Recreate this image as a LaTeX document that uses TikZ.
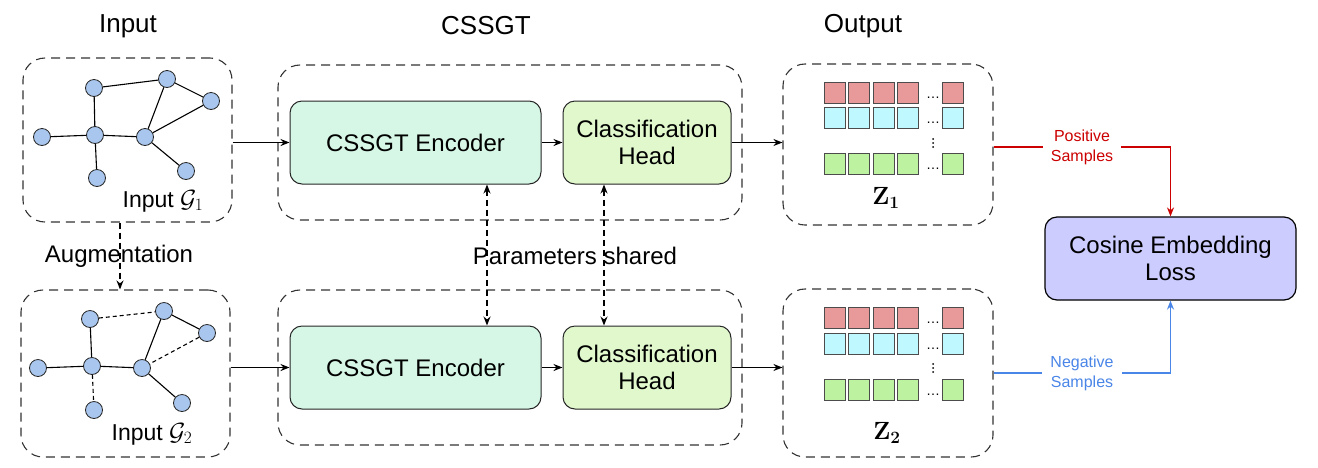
\documentclass[tikz,border=0pt]{standalone}
\usepackage[no-math]{fontspec}
\setmainfont{Liberation Sans}
\usetikzlibrary{arrows.meta,calc}
\definecolor{gblue}{HTML}{A9C6EE}
\definecolor{encfill}{HTML}{D6F7E6}
\definecolor{headfill}{HTML}{E0F8CC}
\definecolor{lossfill}{HTML}{CCCCFF}
\definecolor{cred}{HTML}{E89A9A}
\definecolor{ccyan}{HTML}{BFF9FF}
\definecolor{cgreen}{HTML}{BCF2A0}
\definecolor{posred}{HTML}{CC0000}
\definecolor{negblue}{HTML}{4A86E8}
\begin{document}
\begin{tikzpicture}[x=1pt,y=-1pt,
  container/.style={draw=black!80, line width=1.1pt, dash pattern=on 9pt off 6pt, rounded corners=22pt, inner sep=0pt},
  gnode/.style={circle, draw=black!85, fill=gblue, line width=0.8pt, minimum size=17pt, inner sep=0pt},
  gedge/.style={line width=1.1pt, black},
  gdash/.style={gedge, dash pattern=on 4pt off 3pt},
  arr/.style={-{Stealth[length=9pt,width=7pt]}, line width=1.5pt},
  dasharr/.style={{Stealth[length=9pt,width=7pt]}-{Stealth[length=9pt,width=7pt]}, line width=1.5pt, dash pattern=on 6pt off 4pt},
  procbox/.style={draw=black!85, line width=1pt, rounded corners=12pt, minimum height=83pt, inner sep=0pt, align=center, font=\fontsize{24}{27}\selectfont},
  cell/.style={draw=black!70, line width=0.8pt, minimum size=21pt, inner sep=0pt},
  title/.style={font=\fontsize{26}{30}\selectfont},
  lbl/.style={font=\fontsize{24}{28}\selectfont},
  dots/.style={inner sep=0pt, font=\fontsize{14}{16}\selectfont},
  vdot/.style={circle, fill=black, inner sep=0pt, minimum size=2pt},
  zlbl/.style={font=\fontsize{26}{30}\selectfont},
  sample/.style={fill=white, align=center, inner xsep=8pt, inner ysep=1pt, font=\fontsize{16}{20}\selectfont}
]
\useasboundingbox[fill=white] (0,0) rectangle (1318,467);

% titles
\node[title] (tin) at (128,26) {Input};
\node[title] (tcs) at (486,26) {CSSGT};
\node[title] (tout) at (863,26) {Output};

% containers
\node[container, minimum width=209pt, minimum height=164pt] (in1) at (127.5,140) {};
\node[container, minimum width=209pt, minimum height=167pt] (in2) at (125.5,373.5) {};
\node[container, minimum width=464pt, minimum height=155pt] (cs1) at (510,142.5) {};
\node[container, minimum width=464pt, minimum height=155pt] (cs2) at (510,367.5) {};
\node[container, minimum width=210pt, minimum height=161pt] (out1) at (888,144.5) {};
\node[container, minimum width=210pt, minimum height=168pt] (out2) at (888,373) {};

% graph 1
\node[gnode] (a1) at (94,88) {};
\node[gnode] (b1) at (167,79) {};
\node[gnode] (c1) at (211,101) {};
\node[gnode] (d1) at (42,137) {};
\node[gnode] (e1) at (95,135) {};
\node[gnode] (f1) at (145,137) {};
\node[gnode] (g1) at (97,178) {};
\node[gnode] (h1) at (186,171) {};
\draw[gedge] (a1) -- (b1);
\draw[gedge] (a1) -- (e1);
\draw[gedge] (d1) -- (e1);
\draw[gedge] (e1) -- (f1);
\draw[gedge] (e1) -- (g1);
\draw[gedge] (b1) -- (f1);
\draw[gedge] (b1) -- (c1);
\draw[gedge] (c1) -- (f1);
\draw[gedge] (f1) -- (h1);
\node[font=\fontsize{23}{27}\selectfont] (lg1) at (163,201) {Input $\mathcal{G}_1$};

% graph 2
\node[gnode] (a2) at (90,319) {};
\node[gnode] (b2) at (164,311) {};
\node[gnode] (c2) at (207,333) {};
\node[gnode] (d2) at (38,368) {};
\node[gnode] (e2) at (92,366) {};
\node[gnode] (f2) at (142,368) {};
\node[gnode] (g2) at (94,410) {};
\node[gnode] (h2) at (182,403) {};
\draw[gdash] (a2) -- (b2);
\draw[gedge] (a2) -- (e2);
\draw[gedge] (d2) -- (e2);
\draw[gedge] (e2) -- (f2);
\draw[gdash] (e2) -- (g2);
\draw[gedge] (b2) -- (f2);
\draw[gedge] (b2) -- (c2);
\draw[gdash] (c2) -- (f2);
\draw[gedge] (f2) -- (h2);
\node[font=\fontsize{23}{27}\selectfont] (lg2) at (152,434) {Input $\mathcal{G}_2$};

% augmentation
\draw[arr, dash pattern=on 6pt off 4pt] ($(in1.south)+(-7.5,0)$) -- ($(in2.north)+(-5.5,0)$);
\node[lbl] (aug) at (119,256) {Augmentation};

% processing boxes
\node[procbox, fill=encfill, minimum width=251pt] (enc1) at (415.5,142.5) {CSSGT Encoder};
\node[procbox, fill=headfill, minimum width=168pt] (head1) at (647,142.5) {Classification\\Head};
\node[procbox, fill=encfill, minimum width=251pt] (enc2) at (415.5,367.5) {CSSGT Encoder};
\node[procbox, fill=headfill, minimum width=168pt] (head2) at (647,367.5) {Classification\\Head};

\draw[arr] (enc1.west -| in1.east) -- (enc1.west);
\draw[arr] (enc1) -- (head1);
\draw[arr] (head1.east) -- (head1.east -| out1.west);
\draw[arr] (enc2.west -| in2.east) -- (enc2.west);
\draw[arr] (enc2) -- (head2);
\draw[arr] (head2.east) -- (head2.east -| out2.west);

% parameters shared
\draw[dasharr] ($(enc1.south)+(71.5,0)$) -- ($(enc2.north)+(71.5,0)$);
\draw[dasharr] ($(head1.south)+(-43,0)$) -- ($(head2.north)+(-43,0)$);
\node[lbl] (ps) at (575,256) {Parameters shared};

% output cells (top)
\foreach \rr/\yy/\cc in {1/92.5/cred, 2/118/ccyan, 3/164/cgreen}{
  \foreach \ii/\xx in {1/834.5,2/859,3/883.5,4/908,5/953}{
    \node[cell, fill=\cc] (ua\rr\ii) at (\xx,\yy) {};
  }
  \node[dots, yshift=-5pt] (uad\rr) at (933,\yy) {\ldots};
}
\foreach \k/\yy in {1/139,2/143,3/147}{\node[vdot] (uav\k) at (933,\yy) {};}
\node[zlbl] (z1) at (886,198) {$\mathbf{Z}_{\mathbf{1}}$};

% output cells (bottom)
\foreach \rr/\yy/\cc in {1/317.5/cred, 2/343.5/ccyan, 3/390/cgreen}{
  \foreach \ii/\xx in {1/834.5,2/859,3/883.5,4/908,5/953}{
    \node[cell, fill=\cc] (ub\rr\ii) at (\xx,\yy) {};
  }
  \node[dots, yshift=-5pt] (ubd\rr) at (933,\yy) {\ldots};
}
\foreach \k/\yy in {1/364,2/368,3/372}{\node[vdot] (ubv\k) at (933,\yy) {};}
\node[zlbl] (z2) at (887,433) {$\mathbf{Z}_{\mathbf{2}}$};

% loss
\node[procbox, fill=lossfill, minimum width=251pt, line width=1.2pt, draw=black] (loss) at (1170.5,258.5) {Cosine Embedding\\Loss};

\draw[arr, posred] ($(out1.east)+(0,2.5)$) -| node[pos=0.25, sample, text=posred] (pos) {Positive\\Samples} (loss.north);
\draw[arr, negblue] (out2.east) -| node[pos=0.25, sample, text=negblue] (neg) {Negative\\Samples} (loss.south);
\end{tikzpicture}
\end{document}
